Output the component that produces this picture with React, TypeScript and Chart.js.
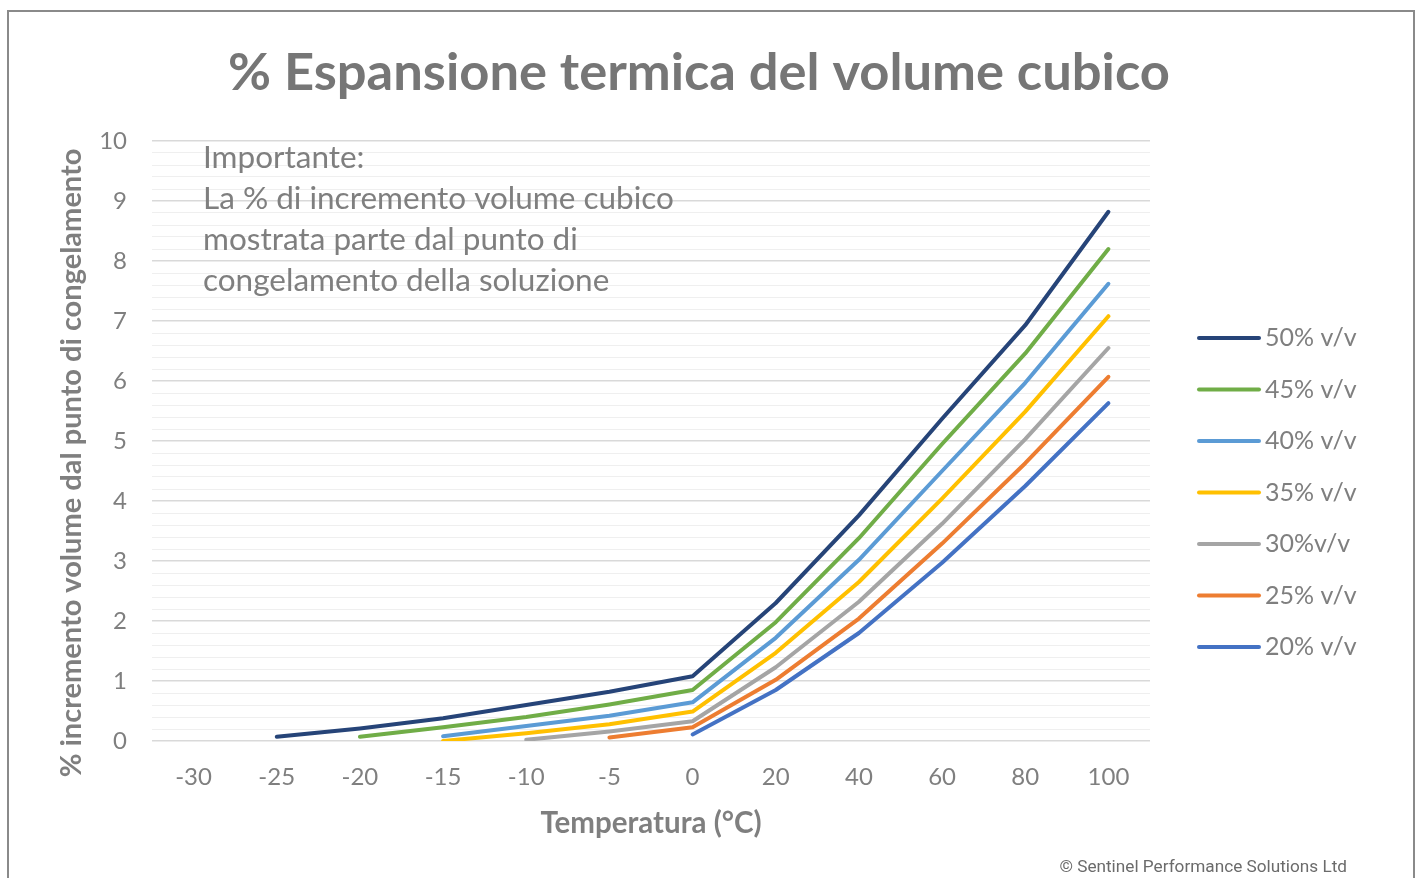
import React, { useEffect, useRef } from 'react';
import { Chart, registerables } from 'chart.js';

Chart.register(...registerables);

// ---------- data ----------
const categories = ['-30', '-25', '-20', '-15', '-10', '-5', '0', '20', '40', '60', '80', '100'];

const seriesLabels = ['50% v/v', '45% v/v', '40% v/v', '35% v/v', '30%v/v', '25% v/v', '20% v/v'];
const seriesColors = ['#264478', '#70AD47', '#5B9BD5', '#FFC000', '#A5A5A5', '#ED7D31', '#4472C4'];

const s50 = [null, 0.07, 0.21, 0.38, 0.6, 0.82, 1.08, 2.3, 3.76, 5.37, 6.93, 8.82];
const s45 = [null, null, 0.07, 0.23, 0.4, 0.61, 0.85, 1.98, 3.38, 4.95, 6.46, 8.2];
const s40 = [null, null, null, 0.08, 0.25, 0.42, 0.645, 1.72, 3.02, 4.5, 5.97, 7.62];
const s35 = [null, null, null, 0.0, 0.13, 0.28, 0.49, 1.47, 2.65, 4.04, 5.49, 7.08];
const s30 = [null, null, null, null, 0.02, 0.16, 0.33, 1.23, 2.32, 3.62, 5.03, 6.55];
const s25 = [null, null, null, null, null, 0.06, 0.23, 1.02, 2.04, 3.29, 4.63, 6.07];
const s20 = [null, null, null, null, null, null, 0.11, 0.85, 1.8, 2.97, 4.25, 5.63];

const seriesValues = [s50, s45, s40, s35, s30, s25, s20];

const chartTitle = '% Espansione termica del volume cubico';
const xTitle = 'Temperatura (°C)';
const yTitle = '% incremento volume dal punto di congelamento';
const noteLines = [
  'Importante:',
  'La % di incremento volume cubico',
  'mostrata parte dal punto di',
  'congelamento della soluzione',
];
const credit = '© Sentinel Performance Solutions Ltd';

const yMin = 0;
const yMax = 10;
const yMinorStep = 0.2;

// ---------- styling ----------
const FONT = 'Lato, "Open Sans", sans-serif';
const GRAY = '#7f7f7f';

const isMajor = (v: number) => Math.abs(v - Math.round(v)) < 1e-6;

const textPlugin = {
  id: 'textPlugin',
  beforeDatasetsDraw(chart: any) {
    const ctx = chart.ctx;
    const area = chart.chartArea;
    ctx.save();
    ctx.fillStyle = GRAY;
    ctx.font = `31.5px ${FONT}`;
    ctx.textAlign = 'left';
    ctx.textBaseline = 'middle';
    noteLines.forEach((t, i) => {
      ctx.fillText(t, area.left + 51, area.top + 17 + i * 41);
    });
    ctx.restore();
  },
  afterDraw(chart: any) {
    const ctx = chart.ctx;
    const area = chart.chartArea;
    ctx.save();
    // title
    ctx.fillStyle = '#767676';
    ctx.font = `bold 52.5px ${FONT}`;
    ctx.textAlign = 'center';
    ctx.textBaseline = 'middle';
    ctx.fillText(chartTitle, 690, 61);

    // x title
    ctx.fillStyle = GRAY;
    ctx.font = `bold 29.5px ${FONT}`;
    ctx.fillText(xTitle, (area.left + area.right) / 2, area.bottom + 82);

    // y title
    ctx.save();
    ctx.font = `bold 29px ${FONT}`;
    ctx.translate(63, 451);
    ctx.rotate(-Math.PI / 2);
    ctx.fillText(yTitle, 0, 0);
    ctx.restore();

    // legend
    const datasets = chart.data.datasets;
    datasets.forEach((ds: any, i: number) => {
      const y = 326 + i * 51.5;
      ctx.strokeStyle = ds.borderColor;
      ctx.lineWidth = 4;
      ctx.lineCap = 'round';
      ctx.beginPath();
      ctx.moveTo(1190, y);
      ctx.lineTo(1250, y);
      ctx.stroke();
      ctx.fillStyle = GRAY;
      ctx.font = `25px ${FONT}`;
      ctx.textAlign = 'left';
      ctx.textBaseline = 'middle';
      ctx.fillText(ds.label, 1256, y);
    });

    // credit
    ctx.fillStyle = '#6b6b6b';
    ctx.font = `17.2px Roboto, sans-serif`;
    ctx.textAlign = 'right';
    ctx.textBaseline = 'middle';
    ctx.fillText(credit, 1338, 856);
    ctx.restore();
  },
};

export default function App() {
  const canvasRef = useRef<HTMLCanvasElement | null>(null);

  useEffect(() => {
    if (!canvasRef.current) return;
    const chart = new Chart(canvasRef.current, {
      type: 'line',
      data: {
        labels: categories,
        datasets: seriesValues.map((vals, i) => ({
          label: seriesLabels[i],
          data: vals,
          borderColor: seriesColors[i],
          backgroundColor: seriesColors[i],
          borderWidth: 4,
          borderCapStyle: 'round',
          borderJoinStyle: 'round',
          pointRadius: 0,
          pointHoverRadius: 0,
          tension: 0,
          fill: false,
          spanGaps: false,
        })),
      },
      options: {
        animation: false,
        responsive: false,
        maintainAspectRatio: false,
        layout: { padding: { left: 0, right: 263, top: 129, bottom: 0 } },
        plugins: {
          legend: { display: false },
          title: { display: false },
          tooltip: { enabled: false },
        },
        scales: {
          x: {
            type: 'category',
            offset: true,
            grid: { display: false, drawTicks: false },
            border: { display: false },
            ticks: {
              color: GRAY,
              font: { family: FONT, size: 24 },
              padding: 22,
              maxRotation: 0,
              autoSkip: false,
            },
            afterFit(scale: any) {
              scale.height = 137;
            },
          },
          y: {
            type: 'linear',
            min: yMin,
            max: yMax,
            grid: {
              drawTicks: false,
              color: (c: any) => (isMajor(c.tick.value) ? '#d9d9d9' : '#efefef'),
              lineWidth: (c: any) => (isMajor(c.tick.value) ? 1.5 : 1),
            },
            border: { display: false },
            ticks: {
              stepSize: yMinorStep,
              autoSkip: false,
              color: GRAY,
              font: { family: FONT, size: 24 },
              padding: 25,
              callback: (v: any) => (isMajor(Number(v)) ? String(Math.round(Number(v))) : ''),
            },
            afterFit(scale: any) {
              scale.width = 143;
            },
          },
        },
      },
      plugins: [textPlugin],
    } as any);
    return () => chart.destroy();
  }, []);

  return (
    <div
      style={{
        position: 'absolute',
        left: 7,
        top: 10,
        width: 1408,
        height: 868,
        boxSizing: 'border-box',
        borderTop: '2px solid #8a8a8a',
        borderLeft: '2px solid #8a8a8a',
        borderRight: '2px solid #8a8a8a',
        background: '#fff',
      }}
    >
      <canvas ref={canvasRef} width={1404} height={866} style={{ display: 'block' }} />
    </div>
  );
}
